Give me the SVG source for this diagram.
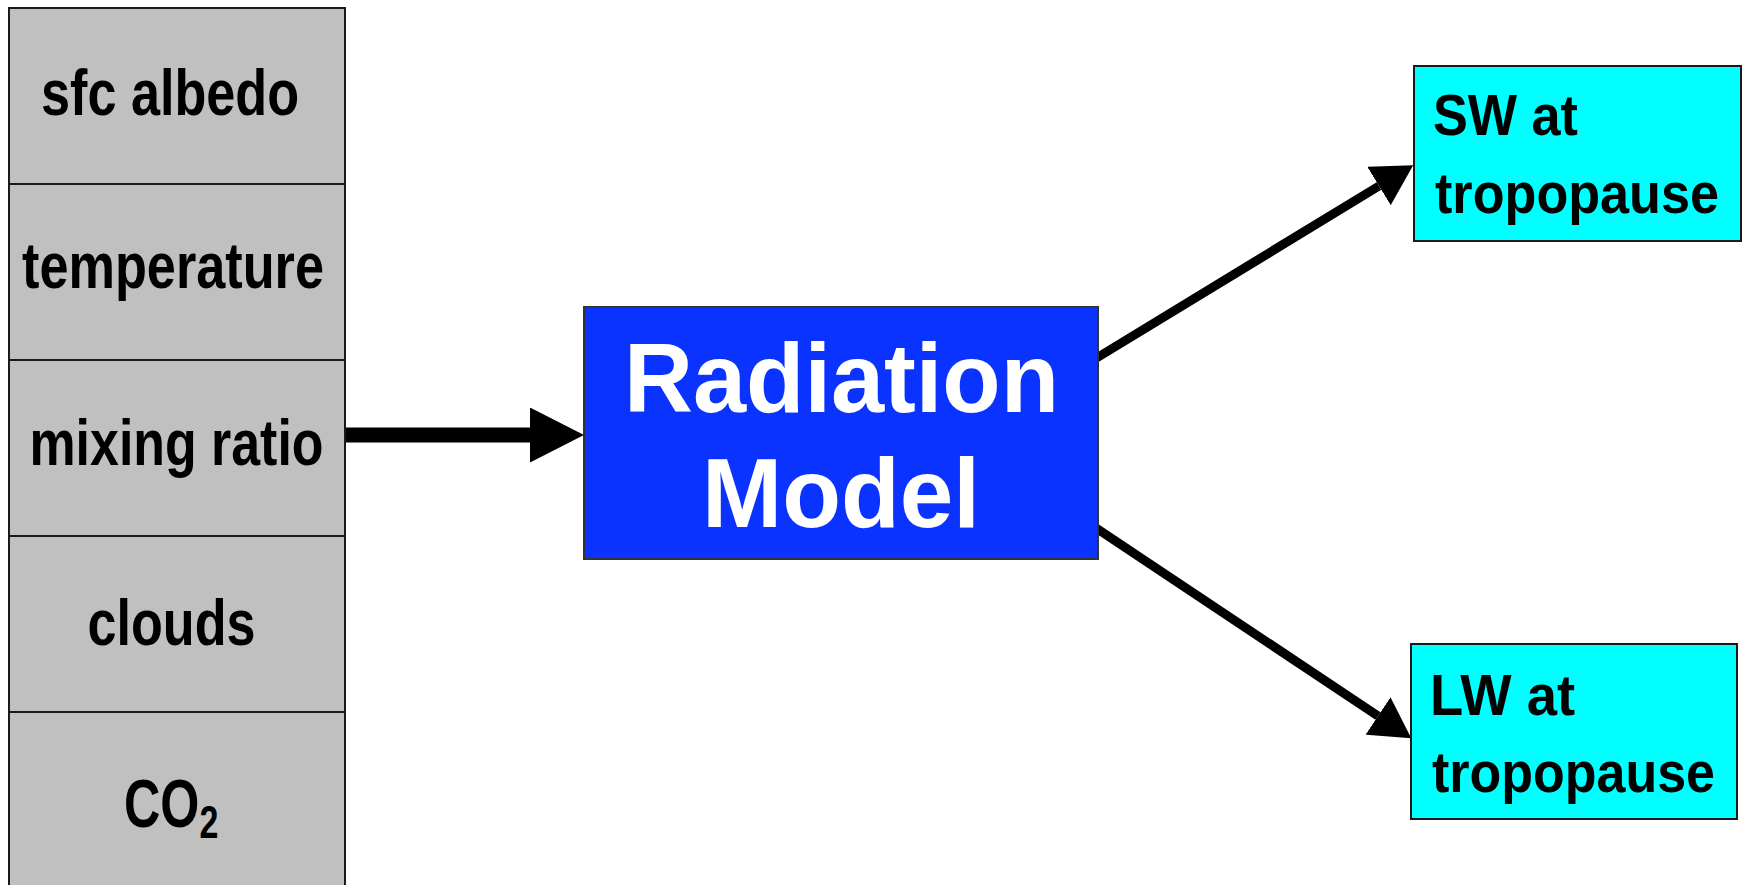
<svg xmlns="http://www.w3.org/2000/svg" width="1747" height="885" viewBox="0 0 1747 885">
<style>
  .cell { fill: #c0c0c0; stroke: #1a1a1a; stroke-width: 2; }
  .out { fill: #00ffff; stroke: #1a1a1a; stroke-width: 2; }
  .model { fill: #0b33ff; stroke: #333333; stroke-width: 2; }
  text { font-family: "Liberation Sans", Arial, sans-serif; font-weight: bold; }
  .lbl { font-size: 65px; fill: #000; }
  .big { font-size: 98px; fill: #fff; }
  .o { font-size: 57px; fill: #000; }
  .conn { stroke: #000; fill: none; }
</style>
<defs>
  <marker id="headBig" markerUnits="userSpaceOnUse" viewBox="0 0 54 55" refX="0" refY="27.5" markerWidth="54" markerHeight="55" orient="auto">
    <path d="M0,0 L54,27.5 L0,55 z" fill="#000"/>
  </marker>
  <marker id="head" markerUnits="userSpaceOnUse" viewBox="0 0 40 45" refX="0" refY="22.5" markerWidth="40" markerHeight="45" orient="auto">
    <path d="M0,0 L40,22.5 L0,45 z" fill="#000"/>
  </marker>
</defs>
<rect x="0" y="0" width="1747" height="885" fill="#ffffff"/>
<g id="connectors">
  <line class="conn" x1="340" y1="435" x2="530" y2="435" stroke-width="15" marker-end="url(#headBig)"/>
  <line class="conn" x1="1090" y1="362" x2="1379" y2="186" stroke-width="9" marker-end="url(#head)"/>
  <line class="conn" x1="1090" y1="524" x2="1378" y2="716" stroke-width="9" marker-end="url(#head)"/>
</g>
<g id="sfc-albedo">
  <rect class="cell" x="9" y="8" width="336" height="176"/>
  <text class="lbl" x="41" y="115" textLength="258" lengthAdjust="spacingAndGlyphs">sfc albedo</text>
</g>
<g id="temperature">
  <rect class="cell" x="9" y="184" width="336" height="176"/>
  <text class="lbl" x="22" y="288" textLength="302" lengthAdjust="spacingAndGlyphs">temperature</text>
</g>
<g id="mixing-ratio">
  <rect class="cell" x="9" y="360" width="336" height="176"/>
  <text class="lbl" x="29.5" y="465" textLength="294" lengthAdjust="spacingAndGlyphs">mixing ratio</text>
</g>
<g id="clouds">
  <rect class="cell" x="9" y="536" width="336" height="176"/>
  <text class="lbl" x="87.5" y="645" textLength="168" lengthAdjust="spacingAndGlyphs">clouds</text>
</g>
<g id="co2">
  <rect class="cell" x="9" y="712" width="336" height="180"/>
  <text class="lbl" transform="matrix(0.74 0 0 1 124 827)" x="0" y="0" style="font-size:68px">CO<tspan dy="11" style="font-size:46px">2</tspan></text>
</g>
<g id="radiation-model">
  <rect class="model" x="584" y="307" width="514" height="252"/>
  <text class="big" x="624" y="412" textLength="435" lengthAdjust="spacingAndGlyphs">Radiation</text>
  <text class="big" x="702" y="527" textLength="278" lengthAdjust="spacingAndGlyphs">Model</text>
</g>
<g id="sw-tropopause">
  <rect class="out" x="1414" y="66" width="327" height="175"/>
  <text class="o" x="1433" y="135" textLength="145" lengthAdjust="spacingAndGlyphs">SW at</text>
  <text class="o" x="1435" y="213" textLength="284" lengthAdjust="spacingAndGlyphs">tropopause</text>
</g>
<g id="lw-tropopause">
  <rect class="out" x="1411" y="644" width="326" height="175"/>
  <text class="o" x="1430" y="715" textLength="145" lengthAdjust="spacingAndGlyphs">LW at</text>
  <text class="o" x="1432" y="792" textLength="283" lengthAdjust="spacingAndGlyphs">tropopause</text>
</g>
</svg>
